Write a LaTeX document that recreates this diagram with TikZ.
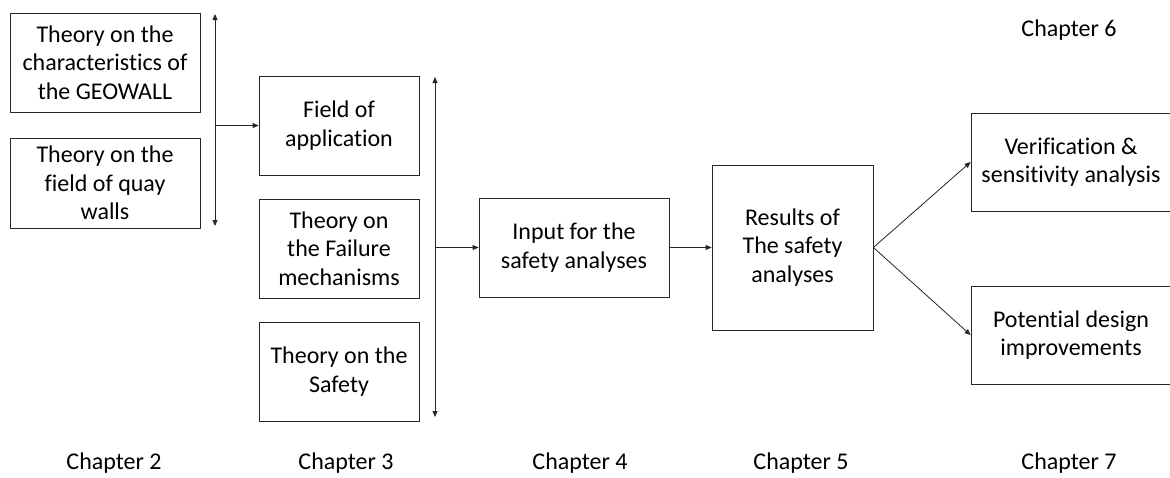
\documentclass[tikz,border=0pt]{standalone}
\usepackage{fontspec}
\setmainfont{Carlito}[Ligatures=NoCommon]
\usetikzlibrary{arrows.meta}
\tikzset{
  box/.style={draw=black!85, line width=0.8pt, align=center, inner sep=2pt,
    font=\fontsize{24}{28.5}\selectfont},
  link/.style={draw=black!85, line width=0.8pt, -{Triangle[length=6pt,width=5pt]}},
  twoway/.style={draw=black!85, line width=0.8pt, {Triangle[length=6pt,width=5pt]}-{Triangle[length=6pt,width=5pt]}},
  chap/.style={font=\fontsize{24}{28}\selectfont}
}
\begin{document}
\begin{tikzpicture}[x=1pt,y=-1pt]
\useasboundingbox (0,0) rectangle (1170,477);
% chapter 2 and 3 theory blocks
\node[box, minimum width=190pt, minimum height=99pt] (geo) at (105,62.5) {Theory on the\\characteristics of\\the GEOWALL};
\node[box, minimum width=190pt, minimum height=90pt] (quay) at (105,183) {Theory on the\\field of quay\\walls};
\node[box, minimum width=160pt, minimum height=99pt] (field) at (339,125.5) {Field of\\application};
\node[box, minimum width=160pt, minimum height=99pt] (fail) at (339,248.5) {Theory on\\the Failure\\mechanisms};
\node[box, minimum width=160pt, minimum height=99pt] (safe) at (339,371.5) {Theory on the\\Safety};
% analysis chain
\node[box, minimum width=190pt, minimum height=99pt] (input) at (574,247.5) {Input for the\\safety analyses};
\node[box, minimum width=161pt, minimum height=165pt] (res) at (792.5,247.5) {Results of\\The safety\\analyses};
\node[box, minimum width=200pt, minimum height=98pt] (verif) at (1071,162) {Verification \&\\sensitivity analysis};
\node[box, minimum width=200pt, minimum height=98pt] (impr) at (1071,335) {Potential design\\improvements};
% collecting bars
\coordinate (b1top) at (215,14);
\coordinate (b1bot) at (215,226);
\coordinate (b1mid) at (215,125.5);
\coordinate (b2top) at (435,77);
\coordinate (b2bot) at (435,417);
\coordinate (b2mid) at (435,247.5);
\draw[twoway] (b1top) -- (b1bot);
\draw[twoway] (b2top) -- (b2bot);
\draw[link] (b1mid) -- (field.west);
\draw[link] (b2mid) -- (input.west);
\draw[link] (input.east) -- (res.west);
\draw[link] (res.east) -- (verif.west);
\draw[link] (res.east) -- (impr.west);
% chapter labels
\node[chap] (c2) at (114,463) {Chapter 2};
\node[chap] (c3) at (346,463) {Chapter 3};
\node[chap] (c4) at (580,463) {Chapter 4};
\node[chap] (c5) at (801,463) {Chapter 5};
\node[chap] (c7) at (1069,463) {Chapter 7};
\node[chap] (c6) at (1069,30) {Chapter 6};
\end{tikzpicture}
\end{document}
